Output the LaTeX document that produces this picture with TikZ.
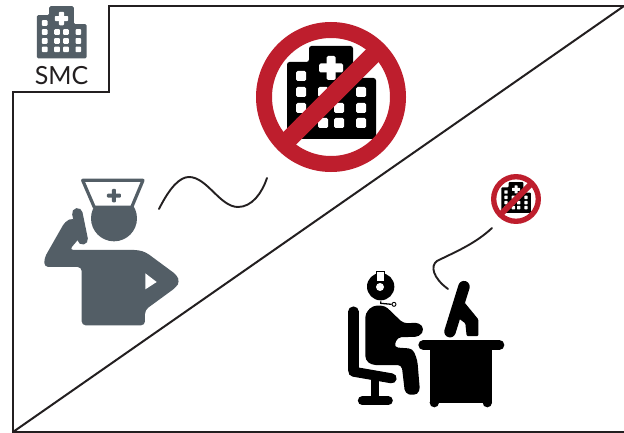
\documentclass[tikz,border=0pt]{standalone}
\usepackage{fontspec}
\setmainfont{Lato}
\definecolor{slate}{HTML}{535E66}
\definecolor{nored}{HTML}{BE1E2D}
\definecolor{ink}{HTML}{231F20}
\newcommand{\hospitalicon}[4]{% x, y, scale, colour (origin = centre of building)
  \begin{scope}[shift={(#1,#2)},scale=#3]
    \fill[#4,rounded corners=#3*2.5pt] (-44,16) -- (-44,-30) -- (-22,-30) -- (-22,-46) -- (22,-46) -- (22,-14) -- (45,-14) -- (45,47) -- (-44,47) -- cycle;
    \fill[white,rounded corners=#3*1.5pt] (-4.5,-36) rectangle (4.5,-12);
    \fill[white,rounded corners=#3*1.5pt] (-12,-28.5) rectangle (12,-19.5);
    \foreach \wx/\wy in {-30/-16,-30/0,-30/16,-30/31,-8/0,-8/16,-8/31,8/0,8/16,8/31,30/0,30/16,30/31}
      \fill[white,rounded corners=#3*1.5pt] (\wx-5,\wy-5) rectangle (\wx+5,\wy+5);
  \end{scope}}
\newcommand{\nosign}[3]{% x, y, scale
  \hospitalicon{#1}{#2-5*#3}{#3}{black}
  \begin{scope}[shift={(#1,#2)},scale=#3]
    \draw[nored,line width=#3*16pt] (0,0) circle (67);
    \draw[nored,line width=#3*18pt] (-47,47) -- (47,-47);
  \end{scope}}
\tikzset{
  frameline/.style={ink,line width=2pt,line join=miter},
  wiggle/.style={ink,line width=1.9pt,line cap=round},
  limb/.style={line cap=round,line join=round},
  smclabel/.style={text=ink,font=\fontsize{25}{25}\selectfont,inner sep=0pt}
}
\begin{document}
\begin{tikzpicture}[x=1pt,y=-1pt]
\useasboundingbox (0,0) rectangle (624,433);
\fill[white] (0,0) rectangle (624,433);

% frame
\coordinate (fa) at (624,6);
\coordinate (fb) at (109,6);
\coordinate (fc) at (109,92);
\coordinate (fd) at (13,92);
\coordinate (fe) at (13,432);
\coordinate (ff) at (624,432);
\draw[frameline] (fa) -- (fb) -- (fc) -- (fd) -- (fe) -- (ff);
\draw[frameline] (fe) -- (fa);

% SMC corner
\hospitalicon{61.5}{32}{0.56}{slate}
\node[smclabel] (smc) at (61.5,76) {SMC};

% big and small no-hospital signs
\nosign{331}{97}{1}
\nosign{516}{199}{0.333}

% nurse
\begin{scope}[shift={(30,170)},scale=1/3]
  \draw[slate,line width=3.2pt,line join=round,fill=white] (158,31) -- (339,31) -- (305,112) -- (193,112) -- cycle;
  \begin{scope}
    \clip (150,110) rectangle (350,230);
    \fill[slate] (252,145) circle (69);
  \end{scope}
  \fill[slate,rounded corners=1pt] (246,57) rectangle (258,97);
  \fill[slate,rounded corners=1pt] (231,71) rectangle (273,83);
  \fill[slate,rounded corners=4pt] (118,240) -- (325,240) -- (348,247) -- (440,315) -- (449,335) -- (438,352) -- (345,420) -- (345,466) -- (155,466) -- (155,291) -- (43,291) -- (43,264) -- (105,155) -- (130,143) -- (160,190) -- cycle;
  \draw[slate,limb,line width=10.5pt] (142,130) -- (158,208);
  \fill[white] (346,310) -- (380,336) -- (346,358) -- cycle;
\end{scope}
\coordinate (wa) at (159,209);
\coordinate (wb) at (189,177);
\coordinate (wc) at (238,207);
\coordinate (wd) at (267,178);
\draw[wiggle] (wa) .. controls (170,187) and (180,177) .. (wb)
  .. controls (207,177) and (220,207) .. (wc)
  .. controls (252,207) and (262,193) .. (wd);

% second wiggle
\coordinate (va) at (492,228);
\coordinate (vb) at (437,261);
\coordinate (vc) at (448,289);
\draw[wiggle] (va) .. controls (475,244) and (455,252) .. (vb)
  .. controls (430,266) and (433,278) .. (vc);

% operator
\begin{scope}[shift={(340,260)},scale=1/3]
  % chair
  \draw[limb,line width=10.5pt] (40,155) -- (40,330);
  \draw[limb,line width=10pt] (40,335) -- (155,355);
  \fill (92,345) rectangle (118,412);
  \draw[limb,line width=9pt] (67,422) -- (145,422);
  % body
  \fill[rounded corners=4pt] (76,300) -- (76,160) -- (98,137) -- (135,137) -- (190,190) -- (238,188) -- (253,208) -- (238,230) -- (172,232) -- (162,262) -- (218,266) -- (232,300) -- (240,395) -- (222,407) -- (195,400) -- (185,315) -- (95,315) -- cycle;
  % head and headset
  \fill (122,80) circle (41);
  \fill[white] (120,81) circle (12);
  \draw[line width=0.8pt,fill=white] (110,35) rectangle (133,64);
  \draw[line width=1.3pt] (122,124) -- (122,130) -- (155,133);
  \draw[line width=0.9pt,fill=white] (162,133) circle (6);
  % desk
  \draw[limb,line width=10pt] (250,255) -- (478,255);
  \fill (270,258) rectangle (455,428);
  \fill (283,428) circle (14);
  \fill (442,428) circle (14);
  % monitor
  \draw[limb,line width=11.5pt] (372,80) -- (330,215);
  \fill[rounded corners=1pt] (374,128) -- (415,178) -- (415,228) -- (380,228) -- (376,190) -- (356,175) -- cycle;
\end{scope}
\end{tikzpicture}
\end{document}
